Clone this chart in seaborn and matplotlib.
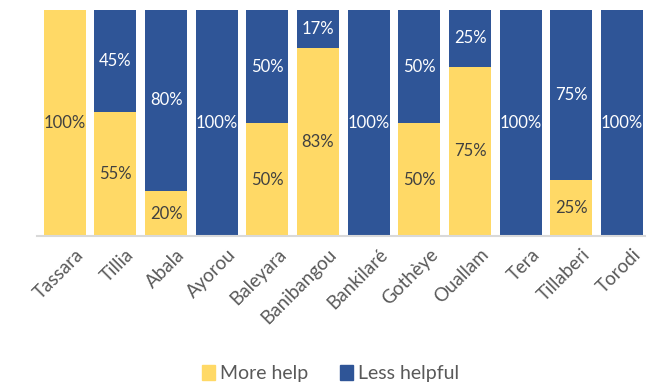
import matplotlib
matplotlib.use("Agg")
import matplotlib.pyplot as plt
import matplotlib.transforms as mtransforms
import seaborn as sns
import pandas as pd
from matplotlib.patches import Patch

categories = ["Tassara", "Tillia", "Abala", "Ayorou", "Baleyara", "Banibangou",
              "Bankilaré", "Gothèye", "Ouallam", "Tera", "Tillaberi", "Torodi"]
more_help = [100, 55, 20, 0, 50, 83, 0, 50, 75, 0, 25, 0]
less_helpful = [0, 45, 80, 100, 50, 17, 100, 50, 25, 100, 75, 100]

YELLOW = "#FFD966"
BLUE = "#2F5597"
GRAY = "#595959"

sns.set_theme(style="white")
plt.rcParams["font.family"] = ["Lato", "DejaVu Sans"]

df = pd.DataFrame({"cat": categories, "more": more_help, "less": less_helpful})
df["total"] = df["more"] + df["less"]

fig = plt.figure(figsize=(6.48, 3.84), dpi=100)
ax = fig.add_axes([0.057, 0.385, 0.938, 0.589])

sns.barplot(data=df, x="cat", y="total", color=BLUE, width=0.83, ax=ax,
            saturation=1, order=categories, linewidth=0)
sns.barplot(data=df, x="cat", y="more", color=YELLOW, width=0.83, ax=ax,
            saturation=1, order=categories, linewidth=0)

for i, (m, l) in enumerate(zip(more_help, less_helpful)):
    if m > 0:
        ax.text(i, m / 2, f"{m}%", ha="center", va="center", fontsize=12,
                color="#404040")
    if l > 0:
        ax.text(i, m + l / 2, f"{l}%", ha="center", va="center", fontsize=12,
                color="white")

ax.set_ylim(0, 100)
ax.set_xlim(-0.55, 11.45)
ax.set_xlabel("")
ax.set_ylabel("")
ax.set_yticks([])
ax.tick_params(axis="x", length=0, pad=7)
ax.set_xticks(range(len(categories)))
ax.set_xticklabels(categories, rotation=45, ha="right", rotation_mode="anchor",
                   fontsize=13.5, color=GRAY)
offset = mtransforms.ScaledTranslation(10 / 100, 0, fig.dpi_scale_trans)
for lab in ax.get_xticklabels():
    lab.set_transform(lab.get_transform() + offset)
for s in ["top", "right", "left"]:
    ax.spines[s].set_visible(False)
ax.spines["bottom"].set_color("#D9D9D9")
ax.spines["bottom"].set_linewidth(1.5)

handles = [Patch(color=YELLOW, label="More help"),
           Patch(color=BLUE, label="Less helpful")]
fig.legend(handles=handles, loc="center", bbox_to_anchor=(0.51, 0.028),
           ncol=2, frameon=False, fontsize=14, handlelength=0.7,
           handleheight=0.8, handletextpad=0.25, columnspacing=1.6,
           labelcolor=GRAY)

fig.savefig("out.png", dpi=100)
